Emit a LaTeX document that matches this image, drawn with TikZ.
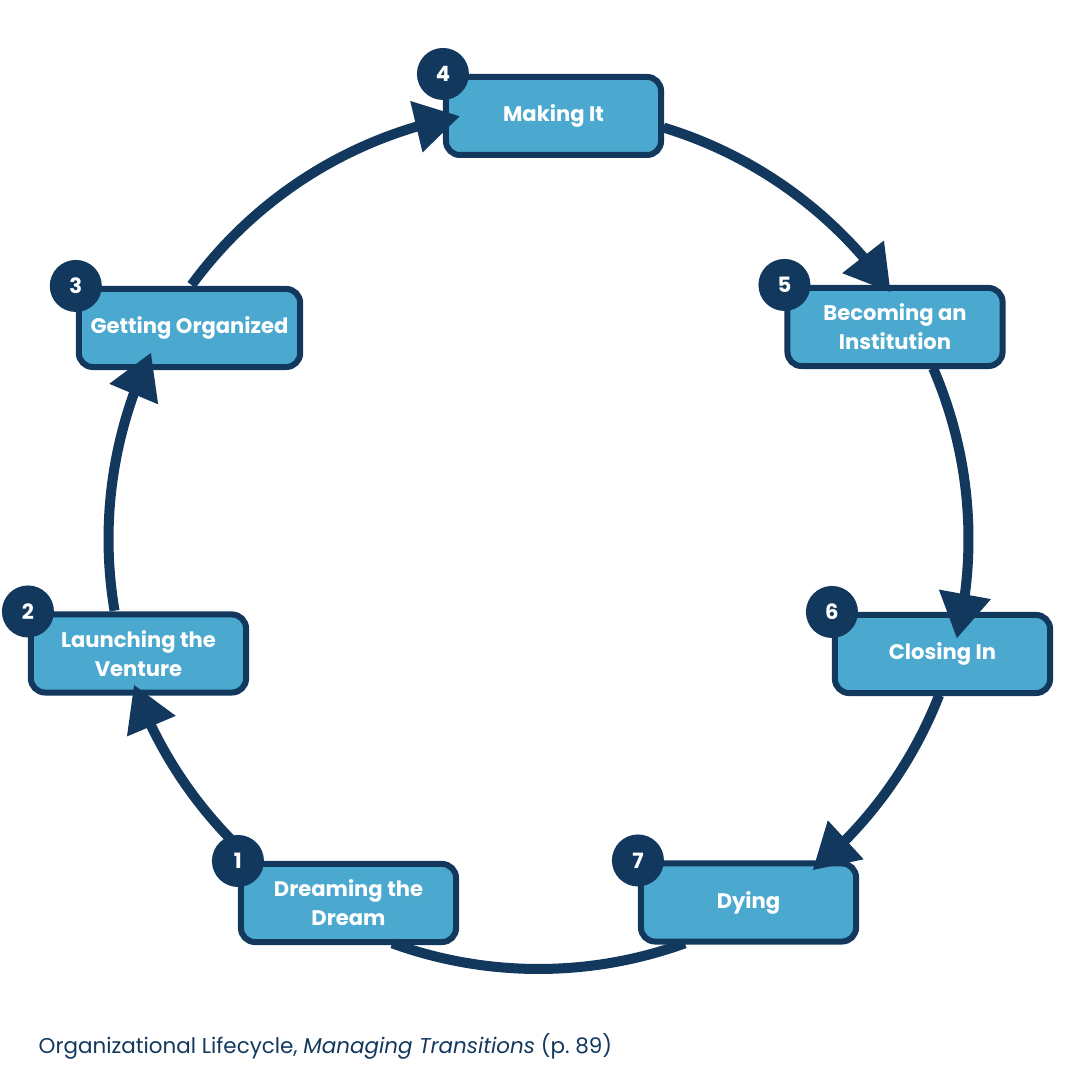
\documentclass[tikz,border=0pt]{standalone}
\usepackage{fontspec}
\setmainfont{Poppins}
\usetikzlibrary{arrows.meta,bending}
\definecolor{navy}{HTML}{12385E}
\definecolor{sky}{HTML}{4BA8CF}
\tikzset{
  stage/.style={draw=navy, fill=sky, line width=0.06cm, rounded corners=0.14cm,
                minimum width=2.15cm, minimum height=0.78cm, align=center,
                text=white, font=\fontsize{6}{8.2}\selectfont\bfseries},
  badge/.style={circle, fill=navy, minimum size=0.52cm, inner sep=0pt,
                text=white, font=\fontsize{6}{7}\selectfont\bfseries},
  ring/.style={draw=navy, line width=0.1cm},
  arrowed/.style={-{Triangle[length=0.45cm,width=0.5cm]}}
}
\begin{document}
\begin{tikzpicture}[x=0.01cm, y=0.01cm]
  \useasboundingbox (0,0) rectangle (1080,1080);
  \coordinate (C) at (538.5,541);   % centre of the ring, radius 430

  % ---- Stages (clockwise from bottom left) ----
  \node[stage] (s1) at (348.5,177)   {Dreaming the\\Dream};
  \node[stage] (s2) at (138.5,426.5) {Launching the\\Venture};
  \node[stage] (s3) at (189.5,752)   {Getting Organized};
  \node[stage] (s4) at (553.5,964)   {Making It};
  \node[stage] (s5) at (895,753)     {Becoming an\\Institution};
  \node[stage] (s6) at (942.5,426)   {Closing In};
  \node[stage] (s7) at (748.5,177.5) {Dying};

  % ---- Points on the ring: where it leaves box \i ----
  \foreach \i/\a in {1/228.5, 2/189.6, 3/143.8, 4/73.1, 5/23.4, 6/-21.3, 7/-70.1}
    \path (C) ++(\a:430) coordinate (out\i);

  % ---- Ring segments, arrow tip just inside the next box ----
  \foreach \i/\a/\b in {1/228.5/199.8, 2/189.6/154.3, 3/143.8/100.5,
                        4/73.1/35, 5/23.4/-13.4, 6/-21.3/-50.4}
    \draw[ring, arrowed] (out\i) arc[start angle=\a, end angle=\b, radius=430];
  % Dying -> Dreaming the Dream (no tip)
  \draw[ring] (out7) arc[start angle=-70.1, end angle=-109.9, radius=430];

  % ---- Number badges on the top left corners ----
  \foreach \i in {1,...,7}
    \node[badge] (n\i) at (s\i.north west) {\i};

  % Source line
  \node[anchor=base west, inner sep=0pt, text=navy, font=\fontsize{6.1}{7}\selectfont]
    (source) at (38,27) {Organizational Lifecycle, \textit{Managing Transitions} (p.~89)};
\end{tikzpicture}
\end{document}
